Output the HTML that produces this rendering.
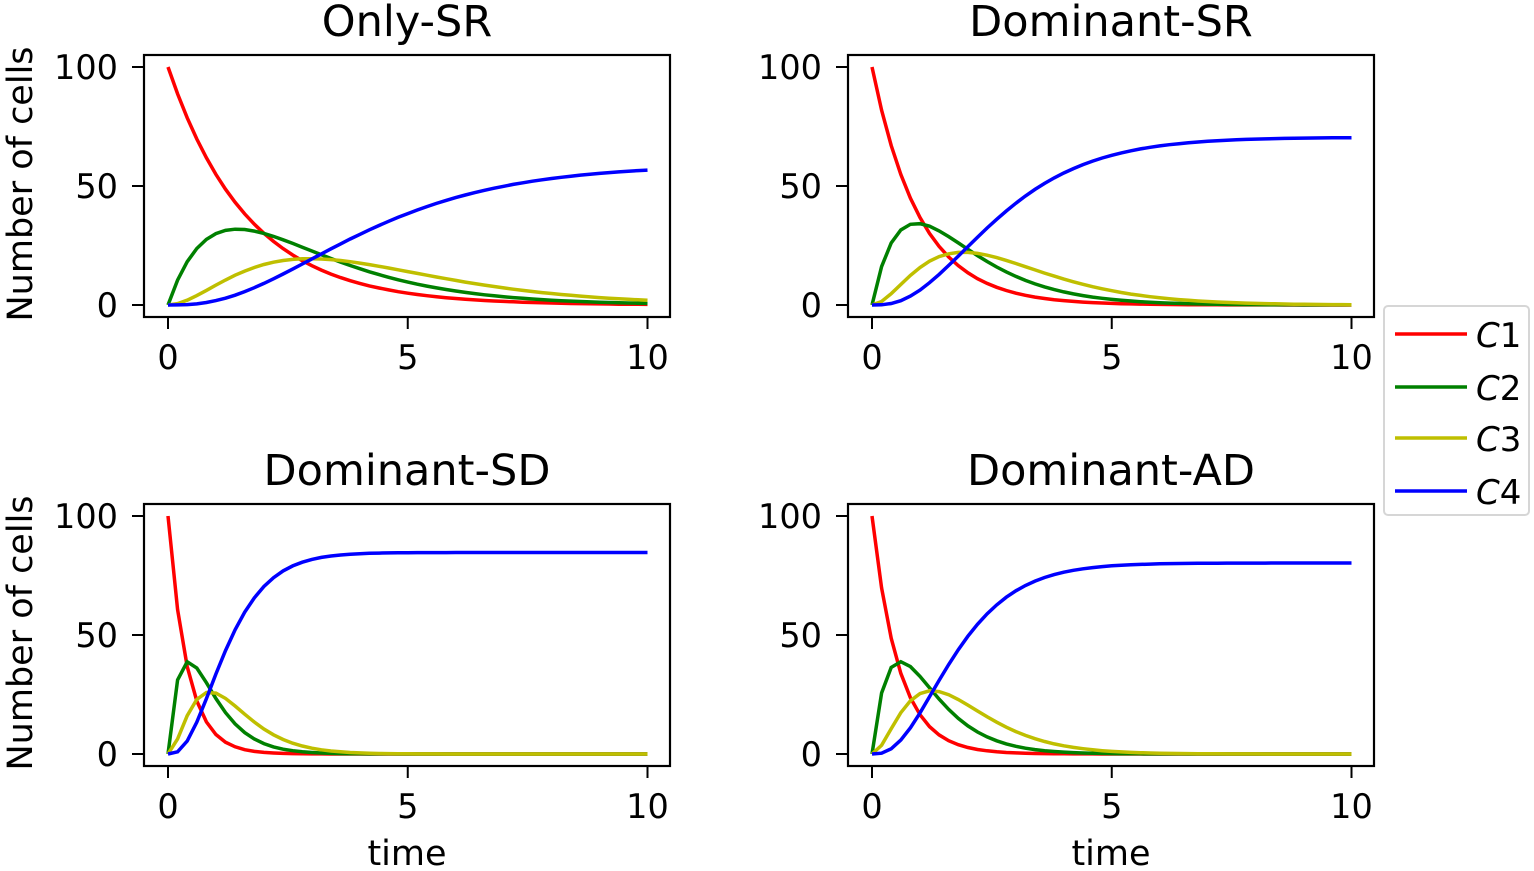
<!DOCTYPE html><html><head><style>body{margin:0;background:#fff}svg{display:block}text{font-family:"DejaVu Sans","Liberation Sans",sans-serif;fill:#000}</style></head><body>
<svg id="s" width="1534" height="871" xmlns="http://www.w3.org/2000/svg"></svg>
<script>
const s=document.getElementById('s');let h='';
const P=[["Only-SR",0,0,[0.6,0.55,0.24,0.55,0.1]],["Dominant-SR",704,0,[1.0,0.9,0.25,0.9,0.1]],["Dominant-SD",0,449,[2.5,2.0,0.25,2.0,0.1]],["Dominant-AD",704,449,[1.8,1.4,0.22,1.3,0.1]]];
const cols=["#ff0000","#008000","#bfbf00","#0000ff"];
P.forEach(([t,dx,dy,[a,b,d2,c,d3]])=>{
 const X=v=>168+dx+v*47.95,Y=v=>305+dy-v*2.38;
 let C=[100,0,0,0],pts=[[],[],[],[]];const dt=0.001;
 for(let i=0;i<=10000;i++){ if(i%200==0)for(let k=0;k<4;k++)pts[k].push(X(i*dt).toFixed(1)+','+Y(C[k]).toFixed(1));
  const f=[-a*C[0],a*C[0]-(b+d2)*C[1],b*C[1]-(c+d3)*C[2],c*C[2]];for(let k=0;k<4;k++)C[k]+=f[k]*dt;}
 h+=`<text x="${407+dx}" y="${36+dy}" font-size="43" text-anchor="middle">${t}</text>`;
 for(let k=0;k<4;k++)h+=`<polyline points="${pts[k].join(' ')}" fill="none" stroke="${cols[k]}" stroke-width="3.5"/>`;
 h+=`<rect x="${144+dx}" y="${55+dy}" width="526" height="262" fill="none" stroke="#000" stroke-width="2.2"/>`;
 [0,5,10].forEach(v=>{h+=`<line x1="${X(v)}" x2="${X(v)}" y1="${317+dy}" y2="${329+dy}" stroke="#000" stroke-width="2"/><text x="${X(v)}" y="${369+dy}" font-size="33.5" text-anchor="middle">${v}</text>`;});
 [0,50,100].forEach(v=>{h+=`<line x1="${132+dx}" x2="${144+dx}" y1="${Y(v)}" y2="${Y(v)}" stroke="#000" stroke-width="2"/><text x="${118+dx}" y="${Y(v)+12}" font-size="33.5" text-anchor="end">${v}</text>`;});
 if(dx==0)h+=`<text transform="translate(32,${184+dy}) rotate(-90)" font-size="35" text-anchor="middle">Number of cells</text>`;
 if(dy>0)h+=`<text x="${407+dx}" y="${865}" font-size="35" text-anchor="middle">time</text>`;
});
h+=`<rect x="1384" y="306" width="145" height="209" rx="4" fill="#fff" stroke="#d6d6d6" stroke-width="2"/>`;
[334,387,438,491].forEach((y,k)=>{h+=`<line x1="1395" x2="1467" y1="${y}" y2="${y}" stroke="${cols[k]}" stroke-width="3.5"/><text x="1476" y="${y+13}" font-size="34"><tspan font-style="italic">C</tspan>${k+1}</text>`;});
s.innerHTML=h;
</script></body></html>
